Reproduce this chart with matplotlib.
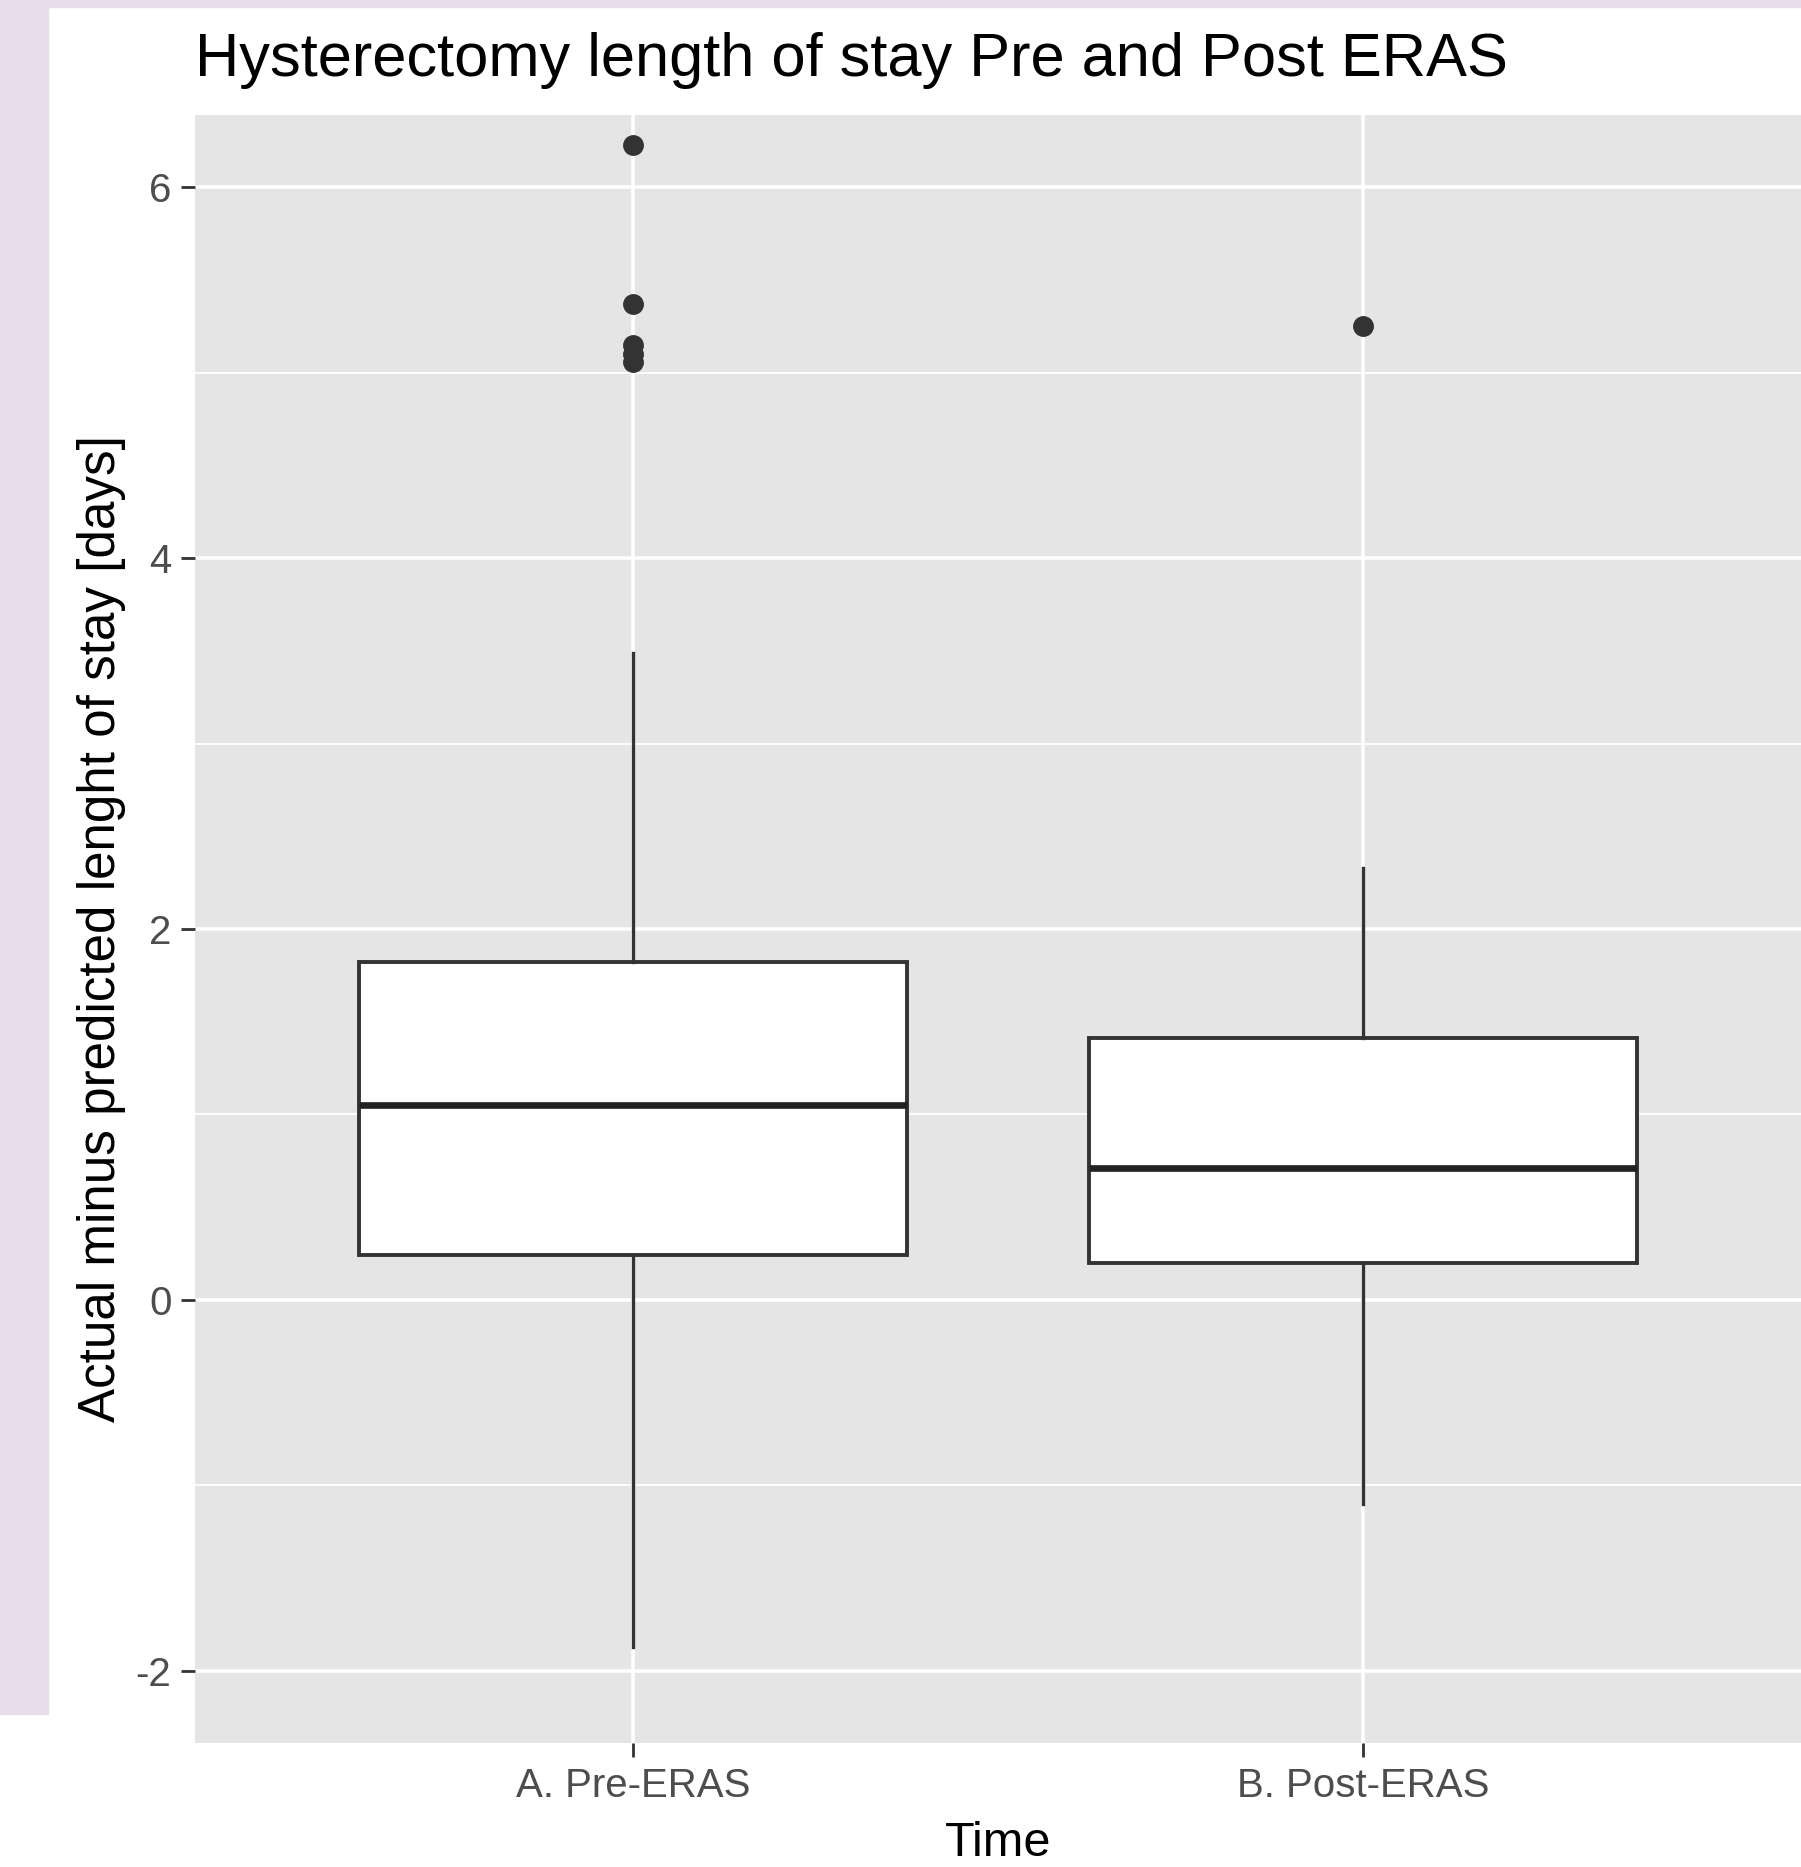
import matplotlib.pyplot as plt
from matplotlib.patches import Rectangle

plt.rcParams['font.family'] = ['Liberation Sans', 'DejaVu Sans']
plt.rcParams['axes.unicode_minus'] = False

# box stats
groups = ["A. Pre-ERAS", "B. Post-ERAS"]
q1 = [0.24, 0.20]
med = [1.05, 0.71]
q3 = [1.82, 1.41]
whislo = [-1.87, -1.10]
whishi = [3.49, 2.33]
fliers = [[6.23, 5.37, 5.15, 5.10, 5.06], [5.25]]

stats = []
for i, g in enumerate(groups):
    stats.append(dict(label=g, q1=q1[i], med=med[i], q3=q3[i],
                      whislo=whislo[i], whishi=whishi[i], fliers=fliers[i]))

fig = plt.figure(figsize=(18.01, 18.67), dpi=100)
fig.patch.set_facecolor("white")

# lavender page border behind the plot
lav = "#E8DDEB"
fig.patches.append(Rectangle((0, 1 - 1714 / 1867), 48 / 1801, 1714 / 1867,
                             transform=fig.transFigure, color=lav, zorder=-10))
fig.patches.append(Rectangle((0, 1 - 7 / 1867), 1, 7 / 1867, transform=fig.transFigure,
                             color=lav, zorder=-10))

ax = fig.add_axes([195 / 1801, 1 - 1743 / 1867, 1 - 195 / 1801, (1743 - 115) / 1867])
ax.set_facecolor("#E5E5E5")

dark = "#333333"
ax.bxp(stats, positions=[1, 2], widths=0.75, patch_artist=True, showcaps=False,
       boxprops=dict(facecolor="white", edgecolor=dark, linewidth=2.8),
       medianprops=dict(color="#222222", linewidth=4.8, solid_capstyle="butt"),
       whiskerprops=dict(color=dark, linewidth=2.4),
       flierprops=dict(marker="o", markersize=14, markerfacecolor=dark,
                       markeredgecolor=dark))

ax.set_xlim(0.4, 2.6)
ax.set_ylim(-2.39, 6.39)
ax.set_xticks([1, 2])
ax.set_xticklabels(groups)
ax.set_yticks([-2, 0, 2, 4, 6])
ax.set_yticks([-1, 1, 3, 5], minor=True)

ax.grid(True, which="major", color="white", linewidth=2.6)
ax.grid(True, which="minor", axis="y", color="white", linewidth=1.3)
ax.set_axisbelow(True)
for s in ax.spines.values():
    s.set_visible(False)

ax.tick_params(which="major", length=10, width=2, color=dark, labelsize=29,
               labelcolor="#4D4D4D", pad=7)
ax.tick_params(which="minor", length=0)

ax.set_xlabel("Time", fontsize=35, labelpad=12)
ax.set_ylabel("Actual minus predicted lenght of stay [days]", fontsize=36.8, labelpad=7)
ax.set_title("Hysterectomy length of stay Pre and Post ERAS", fontsize=44.2,
             loc="left", pad=28)

fig.savefig("out.png", dpi=100)
